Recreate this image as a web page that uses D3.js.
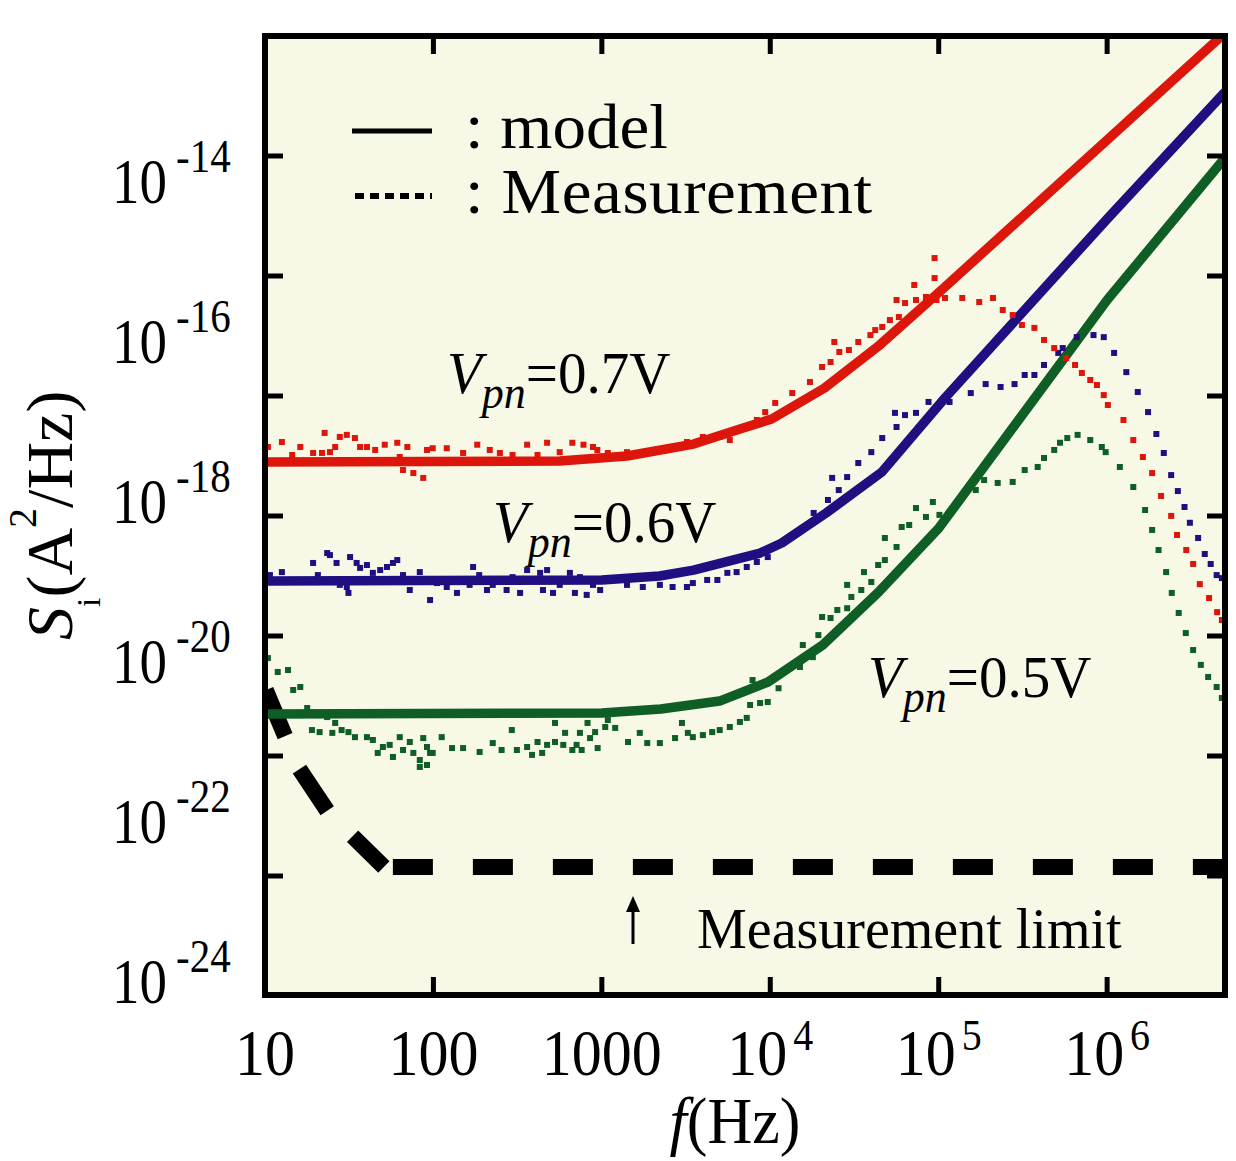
<!DOCTYPE html>
<html><head><meta charset="utf-8">
<script src="https://cdn.jsdelivr.net/npm/d3@7"></script>
<style>
body{margin:0;background:#fff;}
svg{display:block;}
text{font-family:"Liberation Serif","Times New Roman",serif;fill:#000;}
</style>
</head><body>
<svg id="c" width="1236" height="1161"></svg>
<script>
// ---------- tick labels ----------
const xTickValues = [10, 100, 1000, 1e4, 1e5, 1e6];
const xTickBase   = ["10", "100", "1000", "10", "10", "10"];
const xTickSup    = ["", "", "", "4", "5", "6"];
const yLabelValues = [1e-14, 1e-16, 1e-18, 1e-20, 1e-22, 1e-24];
const yLabelSup    = ["-14", "-16", "-18", "-20", "-22", "-24"];
const yTickExp     = [-13.675, -15.175, -16.675, -18.175, -19.675, -21.175, -22.675];

// ---------- model curves [f (Hz), S (A^2/Hz)] ----------
const redModel = [[10,3.16e-18],[562,3.25e-18],[1410,3.76e-18],[3500,5.3e-18],[6900,8.4e-18],[1.02e4,1.09e-17],
  [2.1e4,2.66e-17],[4.47e4,9.2e-17],[1.04e5,4.47e-16],[1e6,3.35e-14],[5.01e6,7.3e-13]];
const blueModel = [[10,1.03e-19],[1000,1.06e-19],[2200,1.19e-19],[3500,1.41e-19],[8700,2.3e-19],[1.17e4,3.07e-19],
  [2.15e4,7.3e-19],[4.6e4,2.37e-18],[1.09e5,2.0e-17],[1e6,3.45e-15],[5.01e6,1.33e-13]];
const greenModel = [[10,2.24e-21],[1000,2.3e-21],[2240,2.58e-21],[5000,3.25e-21],[9700,5.62e-21],[2.05e4,1.63e-20],
  [4.4e4,7.5e-20],[1.0e5,4.7e-19],[1e6,3.35e-16],[5.01e6,2.0e-14]];

// ---------- measurement limit ----------
const limitSlope = [[10,4.7e-21],[15.7,4.87e-22],[23.7,1.33e-22],[50.8,2.74e-23]];
const limitFlat  = [[50.8,2.74e-23],[5.01e6,2.74e-23]];

// ---------- measurements [f, S] ----------
const redMeas = [
 [10.4,4.87e-18],[12.6,5.62e-18],[14.5,3.87e-18],[16.2,4.87e-18],[19.3,4.1e-18],[21.8,4.1e-18],[22.6,7.3e-18],[24.3,4.2e-18],[26.1,4.87e-18],[27.8,6.5e-18],
 [30.6,6.9e-18],[34.2,6.3e-18],[36.7,4.87e-18],[40.3,4.87e-18],[45.1,4.47e-18],[51.4,5.2e-18],[61,5.5e-18],[63.1,3.65e-18],[66,2.51e-18],[70,4.87e-18],
 [76,2.3e-18],[79.4,3.35e-18],[87,2.0e-18],[91.6,4.47e-18],[99,4.7e-18],[120,4.7e-18],[150,4.1e-18],[182,5.2e-18],[216,4.47e-18],[248,4.1e-18],
 [295,3.87e-18],[360,5.2e-18],[415,3.87e-18],[473,5.5e-18],[562,4.2e-18],[668,5.5e-18],[778,5.2e-18],[886,4.87e-18],[940,4.47e-18],[1085,4.1e-18],
 [1410,4.2e-18],[1750,4.2e-18],[2110,4.47e-18],[3200,5.62e-18],[3980,6.5e-18],[5010,6.5e-18],[5750,5.95e-18],[7250,8.66e-18],[8320,1.06e-17],[9330,1.33e-17],
 [1.07e4,1.73e-17],[1.35e4,2.3e-17],[1.72e4,3.16e-17],[2.03e4,4.87e-17],[2.28e4,5.62e-17],[2.4e4,1.0e-16],[2.57e4,7.5e-17],[2.93e4,7.94e-17],[3.33e4,1.0e-16],[3.93e4,1.22e-16],
 [4.2e4,1.41e-16],[4.62e4,1.54e-16],[5.13e4,1.88e-16],[5.62e4,3.35e-16],[5.8e4,2.05e-16],[6.31e4,3.07e-16],[7.16e4,5.16e-16],[7.33e4,3.35e-16],[8.04e4,2.74e-16],[8.4e4,3.65e-16],
 [9.45e4,1.12e-15],[9.45e4,6.3e-16],[9.7e4,3.35e-16],[1.09e5,3.55e-16],[1.38e5,3.55e-16],[1.74e5,3.16e-16],[2.1e5,3.55e-16],[2.4e5,2.51e-16],[2.75e5,2.17e-16],[3.12e5,1.63e-16],
 [3.7e5,1.5e-16],[4.22e5,1.06e-16],[4.85e5,8.4e-17],[5.7e5,6.3e-17],[6.45e5,5.16e-17],[7.08e5,4.1e-17],[7.94e5,3.35e-17],[8.7e5,2.9e-17],[9.55e5,2.17e-17],[1.01e6,1.63e-17],
 [1.25e6,1.06e-17],[1.43e6,5.95e-18],[1.63e6,3.65e-18],[1.85e6,2.3e-18],[2.09e6,1.19e-18],[2.4e6,6.7e-19],[2.6e6,3.87e-19],[2.95e6,2.51e-19],[3.24e6,1.68e-19],[3.55e6,9.4e-20],
 [4.03e6,6.3e-20],[4.5e6,4.2e-20],[4.8e6,3.35e-20]
];
const blueMeas = [
 [10.7,1.22e-19],[12.6,1.33e-19],[15.1,1.06e-19],[19.3,1.73e-19],[20.6,1.22e-19],[23.4,2.3e-19],[24.3,2.17e-19],[26.6,1.73e-19],[27.8,9.2e-20],[30.6,8.66e-20],
 [31.3,7.3e-20],[32,2.05e-19],[35,1.73e-19],[36.7,1.5e-19],[40.3,1.63e-19],[43.7,1.3e-19],[48.3,1.41e-19],[53,1.54e-19],[57.5,1.73e-19],[61,1.88e-19],
 [66,1.22e-19],[72.4,7.94e-20],[83,1.33e-19],[87,1.06e-19],[95.5,5.95e-20],[105,9.7e-20],[120,8.66e-20],[138,7.3e-20],[164,9.2e-20],[172,1.54e-19],
 [187,1.22e-19],[208,7.94e-20],[225,9.2e-20],[272,7.94e-20],[295,1.15e-19],[327,7.3e-20],[360,1.41e-19],[390,1.06e-19],[430,1.3e-19],[447,7.94e-20],
 [473,1.41e-19],[513,7.3e-20],[562,9.2e-20],[646,1.3e-19],[692,7.3e-20],[741,1.15e-19],[813,6.9e-20],[886,9.2e-20],[977,7.94e-20],[1410,9.2e-20],
 [1750,8.66e-20],[2210,9.2e-20],[2630,8.66e-20],[3200,8.66e-20],[3470,9.7e-20],[4220,1.06e-19],[4850,1.06e-19],[5560,1.3e-19],[6310,1.33e-19],[7250,1.54e-19],
 [8320,1.78e-19],[9660,2.05e-19],[1.17e4,3.07e-19],[1.81e4,7.3e-19],[2.2e4,1.06e-18],[2.55e4,1.41e-18],[2.33e4,2.0e-18],[2.86e4,2.05e-18],[3.33e4,3.07e-18],[3.98e4,4.2e-18],
 [4.62e4,6.3e-18],[5.62e4,8.66e-18],[5.5e4,1.3e-17],[6.31e4,1.22e-17],[7.33e4,1.3e-17],[8.7e4,1.78e-17],[1.16e5,1.78e-17],[1.55e5,2.3e-17],[1.9e5,2.98e-17],[2.33e5,2.74e-17],
 [2.82e5,2.98e-17],[3.24e5,3.87e-17],[3.7e5,3.87e-17],[4.22e5,5.16e-17],[5.13e5,7.3e-17],[5.45e5,8.4e-17],[6.6e5,1.15e-16],[8.3e5,1.22e-16],[9.55e5,1.15e-16],[1.1e6,7.3e-17],
 [1.3e6,4.2e-17],[1.52e6,2.37e-17],[1.75e6,1.33e-17],[1.96e6,7.08e-18],[2.17e6,4.1e-18],[2.4e6,2.17e-18],[2.63e6,1.37e-18],[2.88e6,8.66e-19],[3.1e6,5.5e-19],[3.47e6,3.55e-19],
 [3.8e6,2.24e-19],[4.12e6,1.68e-19],[4.47e6,1.22e-19],[4.8e6,1.12e-19]
];
const greenMeas = [
 [10.4,1.12e-20],[11.9,7.5e-21],[13.7,7.94e-21],[14.7,4.47e-21],[16.2,4.87e-21],[17.8,2.66e-21],[19,1.41e-21],[21.1,1.33e-21],[23.4,2.05e-21],[25.1,1.3e-21],
 [26.1,1.73e-21],[28.5,1.41e-21],[31.3,1.33e-21],[34.2,1.15e-21],[40.3,1.15e-21],[43.7,1.06e-21],[46.7,7.3e-22],[50.1,8.66e-22],[55,9.2e-22],[57.5,6.5e-22],
 [63.1,1.15e-21],[66,7.94e-22],[72.4,1.0e-21],[76,7.3e-22],[83,5.95e-22],[87,1.12e-21],[91.6,8.66e-22],[95.5,7.3e-22],[83,4.87e-22],[91.6,5.16e-22],
 [99,7.3e-22],[112,1.15e-21],[129,8.4e-22],[150,8.4e-22],[188,7.5e-22],[225,9.7e-22],[254,7.94e-22],[292,1.41e-21],[313,7.94e-22],[360,8.66e-22],
 [385,6.9e-22],[415,1.0e-21],[442,7.3e-22],[473,9.2e-22],[527,1.73e-21],[527,1.0e-21],[590,9.2e-22],[605,1.3e-21],[668,7.94e-22],[708,9.2e-22],
 [741,1.3e-21],[759,7.94e-22],[822,1.73e-21],[851,1.12e-21],[912,1.33e-21],[944,8.4e-22],[1047,1.54e-21],[1085,1.88e-21],[1200,1.5e-21],[1430,1.0e-21],
 [1680,1.3e-21],[1860,9.7e-22],[2210,9.7e-22],[2720,1.12e-21],[2990,1.73e-21],[3240,1.3e-21],[3470,1.15e-21],[3980,1.22e-21],[4520,1.33e-21],[5010,1.41e-21],
 [5750,1.54e-21],[6600,1.78e-21],[7250,2.0e-21],[7590,2.9e-21],[7850,5.95e-21],[8700,3.07e-21],[9660,3.16e-21],[1.12e4,4.7e-21],[1.5e4,8.66e-21],[1.56e4,1.63e-20],
 [1.79e4,1.15e-20],[1.93e4,2.17e-20],[2.03e4,3.65e-20],[2.28e4,3.55e-20],[2.5e4,4.47e-20],[2.86e4,4.7e-20],[3.03e4,6.5e-20],[2.86e4,9.2e-20],[3.47e4,7.94e-20],[3.6e4,1.33e-19],
 [3.98e4,1.0e-19],[4.37e4,1.63e-19],[4.79e4,1.88e-19],[4.79e4,3.55e-19],[5.62e4,2.74e-19],[6.03e4,4.87e-19],[6.68e4,5.16e-19],[7.33e4,8.4e-19],[8.4e4,6.5e-19],[9.23e4,1.0e-18],
 [1.01e5,6.9e-19],[1.29e5,9.7e-19],[1.66e5,1.41e-18],[1.86e5,1.88e-18],[2.24e5,1.73e-18],[2.75e5,1.78e-18],[3.24e5,2.51e-18],[3.87e5,2.74e-18],[4.22e5,3.55e-18],[4.85e5,4.47e-18],
 [5.25e5,5.5e-18],[5.8e5,6.3e-18],[6.68e5,6.9e-18],[7.94e5,5.95e-18],[9.3e5,4.87e-18],[9.8e5,4.2e-18],[1.19e6,2.74e-18],[1.43e6,1.54e-18],[1.68e6,7.94e-19],[1.85e6,4.47e-19],
 [2.02e6,2.51e-19],[2.24e6,1.33e-19],[2.42e6,7.3e-20],[2.66e6,4.1e-20],[2.93e6,2.3e-20],[3.24e6,1.41e-20],[3.6e6,9.2e-21],[3.98e6,6.5e-21],[4.47e6,4.87e-21],[4.8e6,3.55e-21]
];

const seriesColors = {red:"#DD160C", blue:"#1F0F80", green:"#0F5E25"};
const seriesList = [
  {model: greenModel, meas: greenMeas, color: seriesColors.green},
  {model: blueModel,  meas: blueMeas,  color: seriesColors.blue},
  {model: redModel,   meas: redMeas,   color: seriesColors.red}
];
const vLabels = [
  {text:"=0.7V", x:447, y:393},
  {text:"=0.6V", x:493, y:542},
  {text:"=0.5V", x:868, y:697}
];

// ---------- layout ----------
const M = {left:265, right:1225, top:36, bottom:995};
const svg = d3.select("#c");
const x = d3.scaleLog().domain([10, 5.01e6]).range([M.left, M.right]);
const y = d3.scaleLog().domain([6.88e-25, 6.68e-13]).range([M.bottom, M.top]);

svg.append("rect").attr("x",M.left).attr("y",M.top)
  .attr("width",M.right-M.left).attr("height",M.bottom-M.top).attr("fill","#F7F8E6");

svg.append("defs").append("clipPath").attr("id","clip").append("rect")
  .attr("x",M.left).attr("y",M.top).attr("width",M.right-M.left).attr("height",M.bottom-M.top);
const plot = svg.append("g").attr("clip-path","url(#clip)");

const line = d3.line().x(d=>x(d[0])).y(d=>y(d[1]));

// measurement limit (thick dashed)
plot.append("path").datum(limitSlope).attr("d",line).attr("fill","none")
  .attr("stroke","#000").attr("stroke-width",16)
  .attr("stroke-dasharray","50,36").attr("stroke-dashoffset",-2);
plot.append("path").datum(limitFlat).attr("d",line).attr("fill","none")
  .attr("stroke","#000").attr("stroke-width",16)
  .attr("stroke-dasharray","40,40").attr("stroke-dashoffset",-9);

// model lines
seriesList.forEach(s=>{
  plot.append("path").datum(s.model).attr("d",line).attr("fill","none")
    .attr("stroke",s.color).attr("stroke-width",9.5).attr("stroke-linejoin","round");
});
// measurement dots
seriesList.forEach(s=>{
  plot.append("g").selectAll("rect").data(s.meas).enter().append("rect")
    .attr("x",d=>x(d[0])-3).attr("y",d=>y(d[1])-3)
    .attr("width",6).attr("height",6).attr("fill",s.color);
});

// frame
svg.append("rect").attr("x",M.left).attr("y",M.top)
  .attr("width",M.right-M.left).attr("height",M.bottom-M.top)
  .attr("fill","none").attr("stroke","#000").attr("stroke-width",6);

// ticks
const tk = svg.append("g").attr("stroke","#000").attr("stroke-width",5);
xTickValues.slice(1).forEach(v=>{
  tk.append("line").attr("x1",x(v)).attr("x2",x(v)).attr("y1",M.bottom).attr("y2",M.bottom-18);
  tk.append("line").attr("x1",x(v)).attr("x2",x(v)).attr("y1",M.top).attr("y2",M.top+18);
});
yTickExp.forEach(e=>{
  const yy = y(Math.pow(10,e));
  tk.append("line").attr("x1",M.left).attr("x2",M.left+18).attr("y1",yy).attr("y2",yy);
  tk.append("line").attr("x1",M.right).attr("x2",M.right-18).attr("y1",yy).attr("y2",yy);
});

// text helper
function T(x0,y0,sy,anchor,rot){
  return svg.append("text")
    .attr("transform",`translate(${x0},${y0}) scale(1,${sy})`+(rot?` rotate(${rot})`:""))
    .attr("text-anchor",anchor||"start");
}

// y tick labels
yLabelValues.forEach((v,i)=>{
  const sy=1.14;
  const t=T(112, y(v)+21, sy, "start");
  t.append("tspan").attr("font-size",55).text("10");
  t.append("tspan").attr("font-size",41).attr("dx",9).attr("dy",-31/sy).text(yLabelSup[i]);
});
// x tick labels
xTickValues.forEach((v,i)=>{
  const sy=1.1;
  const t=T(x(v), 1075, sy, "middle");
  t.append("tspan").attr("font-size",60).text(xTickBase[i]);
  if(xTickSup[i]) t.append("tspan").attr("font-size",40).attr("dx",6).attr("dy",-25/sy).text(xTickSup[i]);
});
// x title
{
  const t=T(735,1143,1.04,"middle");
  t.append("tspan").attr("font-size",62).attr("font-style","italic").text("f");
  t.append("tspan").attr("font-size",62).text("(Hz)");
}
// y title
{
  const t=T(72,640,1,"start",-90);
  t.append("tspan").attr("font-size",66).attr("font-style","italic").text("S");
  t.append("tspan").attr("font-size",34).attr("dy",28).text("i");
  t.append("tspan").attr("font-size",66).attr("dy",-28).text("(A");
  t.append("tspan").attr("font-size",40).attr("dy",-36).text("2");
  t.append("tspan").attr("font-size",66).attr("dy",36).text("/Hz)");
}
// V_pn labels
vLabels.forEach(l=>{
  const sy=1.05;
  const t=T(l.x,l.y,sy,"start");
  t.append("tspan").attr("font-size",57).attr("font-style","italic").text("V");
  t.append("tspan").attr("font-size",44).attr("font-style","italic").attr("dy",15/sy).text("pn");
  t.append("tspan").attr("font-size",57).attr("dy",-15/sy).text(l.text);
});
// measurement limit label + arrow
T(697,948,1.0,"start").attr("font-size",56).text("Measurement limit");
svg.append("line").attr("x1",633).attr("x2",633).attr("y1",944).attr("y2",908)
  .attr("stroke","#000").attr("stroke-width",3);
svg.append("path").attr("d","M626,912 L633,896 L640,912 Z").attr("fill","#000");

// legend
svg.append("line").attr("x1",352).attr("x2",432).attr("y1",131).attr("y2",131)
  .attr("stroke","#000").attr("stroke-width",5);
svg.append("line").attr("x1",355).attr("x2",432).attr("y1",196).attr("y2",196)
  .attr("stroke","#000").attr("stroke-width",6).attr("stroke-dasharray","9,6");
T(465,148,0.94,"start").attr("font-size",67).text(": model");
T(465,213,0.94,"start").attr("font-size",67).attr("letter-spacing",0.6).text(": Measurement");
</script>
</body></html>
